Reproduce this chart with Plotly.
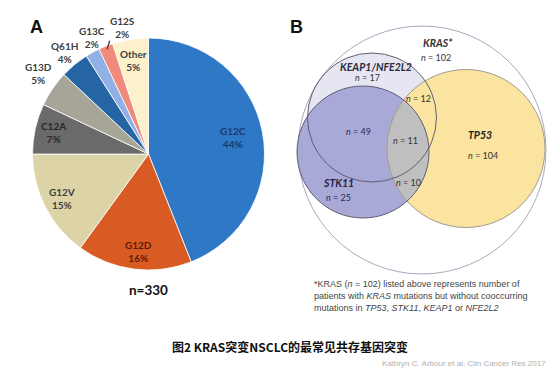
import numpy as np
import plotly.graph_objects as go

# ---------------- data ----------------
pie_labels = ["G12C", "G12D", "G12V", "C12A", "G13D", "Q61H", "G13C", "G12S", "Other"]
pie_values = [44, 16, 15, 7, 5, 4, 2, 2, 5]
pie_colors = ["#2E78C6", "#D95B24", "#DCD4A6", "#6A6A6A", "#A6A597", "#2565A3", "#91B1E6", "#F08A7A", "#FCF1CB"]
pie_textcolors = ["#1B3A6B", "#5A1A08", "#404040", "#262626", "#404040", "#404040", "#404040", "#404040", "#404040"]
n_total = 330

venn_sets = ["KRAS*", "KEAP1/NFE2L2", "STK11", "TP53"]
venn_set_n = [102, 17, 25, 104]
venn_overlap_labels = ["KEAP1∩TP53", "STK11∩KEAP1", "STK11∩KEAP1∩TP53", "STK11∩TP53"]
venn_overlap_n = [12, 49, 11, 10]

title_text = "图2 KRAS突变NSCLC的最常见共存基因突变"
footnote_lines = [
    "*KRAS (<i>n</i> = 102) listed above represents number of",
    "patients with <i>KRAS</i> mutations but without cooccurring",
    "mutations in <i>TP53</i>, <i>STK11</i>, <i>KEAP1</i> or <i>NFE2L2</i>",
]
watermark = "Kathryn C. Arbour et al. Clin Cancer Res 2017"

W, H = 557, 378
OFF = 8  # page body margin: axis coordinates = page pixels

fig = go.Figure()

# ---------------- Panel A: pie ----------------
cx, cy, r = 148.5, 154, 116
fig.add_trace(go.Pie(
    labels=pie_labels, values=pie_values, sort=False, direction="clockwise", rotation=0,
    marker=dict(colors=pie_colors, line=dict(color="white", width=0.8)),
    textinfo="none",
    domain=dict(x=[(cx - r - OFF) / W, (cx + r - OFF) / W],
                y=[1 - (cy + r - OFF) / H, 1 - (cy - r - OFF) / H]),
    showlegend=False, hoverinfo="label+value",
))

# slice labels, placed along each slice's bisector
label_rfrac = [0.74, 0.85, 0.84, 0.84, 1.18, 1.14, 1.12, 1.12, 0.82]
label_nudge = [(0, 0), (2, 0), (0, 0), (0, 0), (3, -4), (0, 0), (6, -3), (22, -6), (0, 0)]
ann = []
extra_shapes = []
cum = np.cumsum([0] + pie_values)
tot = float(sum(pie_values))
for i, (lab, v) in enumerate(zip(pie_labels, pie_values)):
    mid = (cum[i] + v / 2) / tot * 2 * np.pi
    dx, dy = np.sin(mid), -np.cos(mid)
    rr = r * label_rfrac[i]
    ann.append(dict(x=cx + dx * rr + label_nudge[i][0], y=cy + dy * rr + label_nudge[i][1],
                    xref="x", yref="y", text=f"{lab}<br>{v}%", showarrow=False,
                    font=dict(family="Lato", size=10, color=pie_textcolors[i], weight="bold"),
                    xanchor="center", yanchor="middle"))
    if lab == "G12S":
        extra_shapes.append(dict(type="line", xref="x", yref="y", layer="above",
                                 x0=cx + dx * r * 0.97, y0=cy + dy * r * 0.97,
                                 x1=cx + dx * r * 1.05 + 6, y1=cy + dy * r * 1.05,
                                 line=dict(color="#404040", width=1.3)))

# ---------------- Panel B: Venn (pixel-coordinate axes) ----------------
circles = {
    "KRAS*": (422, 150, 124),
    "KEAP1/NFE2L2": (372, 117.5, 64.5),
    "STK11": (363, 152, 66),
    "TP53": (466, 148.5, 79),
}
fills = {"KRAS*": "#FFFFFF", "KEAP1/NFE2L2": "#E6E6F2", "STK11": "#A9A9D8", "TP53": "#FBE3A0"}
lines = {"KRAS*": "#A8A8BC", "KEAP1/NFE2L2": "#5E5E72", "STK11": "#5E5E72", "TP53": "#A09C90"}


def circ(name, fill, line, width):
    x, y, rr = circles[name]
    return dict(type="circle", xref="x", yref="y", x0=x - rr, x1=x + rr, y0=y - rr, y1=y + rr,
                fillcolor=fill, line=dict(color=line, width=width), layer="below")


venn_shapes = []
for nm in ["KRAS*", "KEAP1/NFE2L2", "STK11", "TP53"]:
    venn_shapes.append(circ(nm, fills[nm], "rgba(0,0,0,0)", 0))

# lens STK11 ∩ TP53 (gray)
x1, y1, r1 = circles["STK11"]
x2, y2, r2 = circles["TP53"]
d = np.hypot(x2 - x1, y2 - y1)
a = (r1 ** 2 - r2 ** 2 + d ** 2) / (2 * d)
hh = np.sqrt(r1 ** 2 - a ** 2)
tu = np.arctan2(y2 - y1, x2 - x1)
al1 = np.arctan2(hh, a)
al2 = np.arctan2(hh, d - a)
t1 = np.linspace(tu - al1, tu + al1, 60)
t2 = np.linspace(tu + np.pi - al2, tu + np.pi + al2, 60)
px = np.concatenate([x1 + r1 * np.cos(t1), x2 + r2 * np.cos(t2)])
py = np.concatenate([y1 + r1 * np.sin(t1), y2 + r2 * np.sin(t2)])
mx, my = px.mean(), py.mean()
order = np.argsort(np.arctan2(py - my, px - mx))
px, py = px[order], py[order]
path = "M " + " L ".join(f"{a_:.2f},{b_:.2f}" for a_, b_ in zip(px, py)) + " Z"
venn_shapes.append(dict(type="path", xref="x", yref="y", path=path, fillcolor="#BFBFBF",
                        line=dict(width=0), layer="below"))

for nm in ["KRAS*", "TP53", "STK11", "KEAP1/NFE2L2"]:
    venn_shapes.append(circ(nm, "rgba(0,0,0,0)", lines[nm], 1))

shapes = venn_shapes + extra_shapes


def t(x, y, text, size=9, color="#333333", family="Liberation Sans", xanchor="center"):
    ann.append(dict(x=x, y=y, xref="x", yref="y", text=text, showarrow=False,
                    font=dict(family=family, size=size, color=color), xanchor=xanchor, yanchor="middle"))


t(36, 27, "<b>A</b>", size=18, color="#111111")
t(296, 27, "<b>B</b>", size=18, color="#111111")
t(cx, 290, f"<b>n={n_total}</b>", size=13.5, color="#111111", family="Lato")

t(438, 43, f"<b><i>{venn_sets[0]}</i></b>", size=10.5, color="#333333", family="Lato")
t(436, 57, f"<i>n</i> = {venn_set_n[0]}", size=9, color="#333333", family="Lato")
t(376, 67, f"<b><i>{venn_sets[1]}</i></b>", size=10.5, color="#2A2A3A", family="Lato")
t(367, 77, f"<i>n</i> = {venn_set_n[1]}", size=9, color="#333333", family="Lato")
t(480, 135, f"<b><i>{venn_sets[3]}</i></b>", size=10.5, color="#222222", family="Lato")
t(483, 155, f"<i>n</i> = {venn_set_n[3]}", size=9, color="#333333", family="Lato")
t(338, 183, f"<b><i>{venn_sets[2]}</i></b>", size=10.5, color="#222244", family="Lato")
t(338, 197, f"<i>n</i> = {venn_set_n[2]}", size=9, color="#2A2A50", family="Lato")
t(418, 98, f"<i>n</i> = {venn_overlap_n[0]}", size=9, color="#333333", family="Lato")
t(358, 131, f"<i>n</i> = {venn_overlap_n[1]}", size=9, color="#2A2A50", family="Lato")
t(405, 140, f"<i>n</i> = {venn_overlap_n[2]}", size=9, color="#333333", family="Lato")
t(408, 182, f"<i>n</i> = {venn_overlap_n[3]}", size=9, color="#333333", family="Lato")

for i, ln in enumerate(footnote_lines):
    t(312, 284 + i * 12, ln, size=9, color="#444444", xanchor="left")

t(290, 346, f"<b>{title_text}</b>", size=12, color="#111111", family="Noto Sans CJK SC")
t(548, 363, watermark, size=8, color="#B0B0B0", xanchor="right")

fig.update_layout(
    width=W, height=H, margin=dict(l=0, r=0, t=0, b=0),
    paper_bgcolor="white", plot_bgcolor="rgba(0,0,0,0)",
    xaxis=dict(range=[OFF, OFF + W], visible=False, domain=[0, 1], fixedrange=True),
    yaxis=dict(range=[OFF + H, OFF], visible=False, domain=[0, 1], fixedrange=True),
    shapes=shapes, annotations=ann,
)

fig.write_html("out.html")
